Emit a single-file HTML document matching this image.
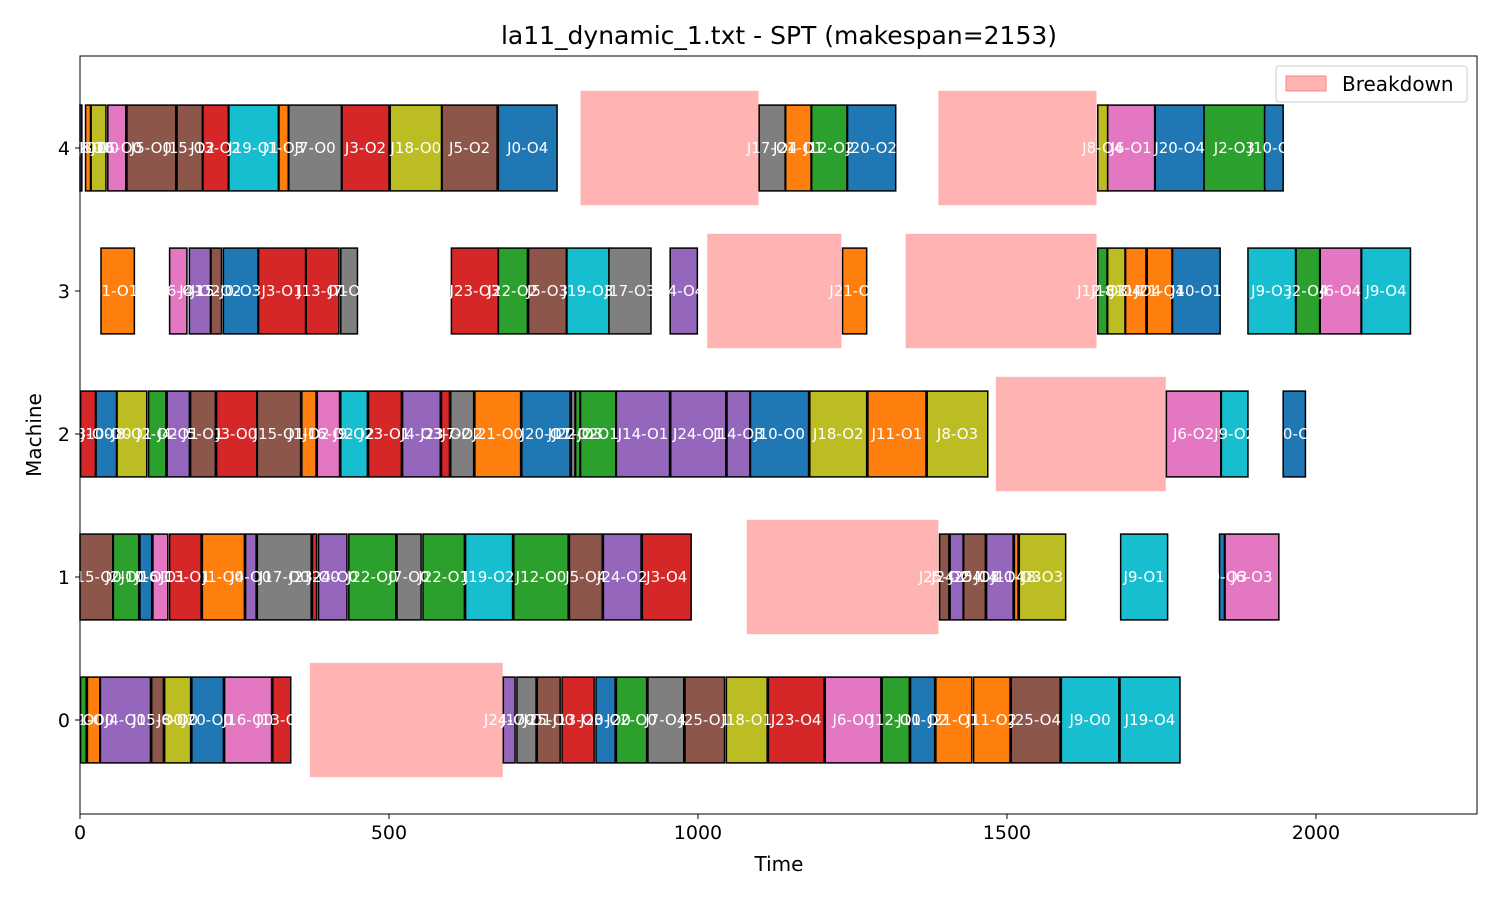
<!DOCTYPE html>
<html><head><meta charset="utf-8"><title>Gantt</title>
<style>
html,body{margin:0;padding:0;background:#fff;}
svg{display:block;font-family:"DejaVu Sans","Liberation Sans",sans-serif;}
</style></head>
<body>
<svg id="chart" width="1500" height="900" viewBox="0 0 1500 900" xmlns="http://www.w3.org/2000/svg">
<rect x="0" y="0" width="1500" height="900" fill="#fff"/>
<text x="779" y="44" text-anchor="middle" style="font-size:25px" fill="#000">la11_dynamic_1.txt - SPT (makespan=2153)</text>
<g id="breakdowns"></g>
<g id="bars"></g>
<g id="axes"></g>
<g>
<rect x="1276" y="66" width="191" height="36" rx="3" fill="#fff" fill-opacity="0.8" stroke="#ccc"/>
<rect x="1286" y="76" width="40" height="15" fill="#ffb3b3" stroke="#ff8080"/>
<text x="1342" y="91" style="font-size:20px" fill="#000">Breakdown</text>
</g>
<text x="779" y="871" text-anchor="middle" style="font-size:20px" fill="#000">Time</text>
<text x="41" y="435" text-anchor="middle" style="font-size:20px" fill="#000" transform="rotate(-90 41 435)">Machine</text>
</svg>
<script>
// ---- data ----
const machines = [0,1,2,3,4];
const xTicks = [0,500,1000,1500,2000];
// ops per machine: [job, op, start, end]
const ops4 = [[14,0,0,3],[11,0,9,17],[8,0,18,42],[16,0,45,74],[5,0,76,155],[15,2,157,198],[13,2,199,240],[19,1,241,321],[1,3,322,337],[7,0,338,423],[3,2,424,500],[18,0,502,585],[5,2,586,675],[0,4,677,772],[17,4,1099,1141],[21,1,1142,1183],[12,2,1184,1241],[20,2,1242,1320],[8,4,1647,1663],[6,1,1663,1739],[20,4,1740,1819],[2,3,1819,1917],[10,4,1917,1947]];
const ops3 = [[1,1,34,88],[16,1,145,173],[4,2,177,211],[15,2,212,229],[0,3,232,288],[3,1,289,365],[13,1,366,419],[7,1,422,449],[23,3,601,677],[22,2,677,724],[5,3,726,787],[19,3,788,856],[17,3,856,924],[4,4,955,999],[21,3,1234,1273],[12,3,1647,1662],[18,4,1663,1691],[11,4,1692,1725],[21,4,1727,1767],[10,1,1768,1845],[9,3,1890,1967],[2,4,1968,2006],[6,4,2007,2073],[9,4,2074,2153]];
const ops2 = [[13,0,1,25],[10,0,26,59],[8,1,60,108],[2,2,111,139],[4,1,141,177],[5,1,179,219],[3,0,221,286],[15,1,287,357],[1,2,359,382],[16,2,384,420],[9,2,422,465],[23,1,467,520],[4,3,522,583],[23,2,585,598],[7,2,600,637],[21,0,639,713],[20,1,715,793],[17,2,795,801],[22,3,802,809],[2,1,810,867],[14,1,868,954],[24,1,956,1045],[14,3,1047,1084],[10,0,1085,1179],[18,2,1181,1273],[11,1,1275,1369],[8,3,1371,1469],[6,2,1758,1846],[9,2,1847,1890],[10,3,1947,1983]];
const ops1 = [[15,0,0,53],[2,0,54,95],[10,1,97,116],[16,1,118,142],[13,1,145,196],[1,0,198,266],[4,0,268,285],[17,0,287,374],[23,0,376,383],[24,0,386,432],[22,0,435,511],[7,0,513,552],[22,1,555,622],[19,2,624,700],[12,0,702,790],[5,4,792,845],[24,2,847,908],[3,4,910,989],[25,2,1391,1406],[24,4,1408,1429],[25,3,1430,1465],[14,4,1467,1510],[11,3,1512,1518],[8,3,1520,1595],[9,1,1684,1760],[20,3,1844,1852],[6,3,1853,1940]];
const ops0 = [[2,0,1,10],[1,0,12,32],[4,0,33,114],[15,0,116,135],[8,0,137,179],[20,0,181,232],[16,0,234,310],[13,0,312,341],[24,0,685,704],[17,1,707,738],[25,0,740,777],[13,3,780,832],[20,0,835,866],[22,0,868,917],[7,4,919,977],[25,1,979,1043],[18,1,1046,1112],[23,4,1114,1204],[6,0,1206,1296],[12,1,1298,1342],[10,2,1344,1383],[21,1,1385,1443],[11,2,1446,1505],[25,4,1507,1586],[9,0,1588,1681],[19,4,1683,1780]];
const opsByMachine = [ops0, ops1, ops2, ops3, ops4];
// breakdowns: [machine, start, end]
const breakdowns = [[0,372,684],[1,1079,1389],[2,1482,1757],[3,1015,1232],[3,1336,1645],[4,810,1098],[4,1389,1645]];

// ---- scales ----
const PL=80, PR=1477, PT=56, PB=814;
const XMAX = 2153*1.05;
const xs = t => PL + t/XMAX*(PR-PL);
const ys = m => 720 - 143*m;
const BAR_H = 0.6*143, BD_H = 0.8*143;
const colors = ['#1f77b4','#ff7f0e','#2ca02c','#d62728','#9467bd','#8c564b','#e377c2','#7f7f7f','#bcbd22','#17becf'];
const NS = 'http://www.w3.org/2000/svg';
function mk(tag, attrs){const e=document.createElementNS(NS,tag);for(const k in attrs)e.setAttribute(k,attrs[k]);return e;}

const bdG = document.getElementById('breakdowns');
breakdowns.forEach(b=>{
  const r = mk('rect',{x:xs(b[1]),y:ys(b[0])-BD_H/2,width:xs(b[2])-xs(b[1]),height:BD_H,fill:'#ffb3b3'});
  
  
  bdG.appendChild(r);
});

const barG = document.getElementById('bars');
const labelG = mk('g',{});
opsByMachine.forEach((ops,m)=>{
  ops.forEach(o=>{
    const x0=xs(o[2]), x1=xs(o[3]);
    const r = mk('rect',{x:x0,y:ys(m)-BAR_H/2,width:x1-x0,height:BAR_H,fill:colors[o[0]%10],stroke:'#000','stroke-width':1.5});
    
    
    barG.appendChild(r);
    const t = mk('text',{x:(x0+x1)/2,y:ys(m)+5,'text-anchor':'middle',style:'font-size:15px',fill:'#fff'});
    t.textContent = 'J'+o[0]+'-O'+o[1];
    
    
    labelG.appendChild(t);
  });
});
barG.appendChild(labelG);

const ax = document.getElementById('axes');
const frame = mk('rect',{x:PL,y:PT,width:PR-PL,height:PB-PT,fill:'none',stroke:'#000','stroke-width':1});


ax.appendChild(frame);
xTicks.forEach(v=>{
  const x=xs(v);
  const l = mk('line',{x1:x,x2:x,y1:PB,y2:PB+5,stroke:'#000'});
  
  
  ax.appendChild(l);
  const t = mk('text',{x:x,y:PB+25,'text-anchor':'middle',style:'font-size:19px',fill:'#000'});
  t.textContent = v;
  
  
  ax.appendChild(t);
});
machines.forEach(m=>{
  const y=ys(m);
  const l = mk('line',{x1:PL-5,x2:PL,y1:y,y2:y,stroke:'#000'});
  
  
  ax.appendChild(l);
  const t = mk('text',{x:PL-10,y:y+7,'text-anchor':'end',style:'font-size:19px',fill:'#000'});
  t.textContent = m;
  
  
  ax.appendChild(t);
});
</script>
</body></html>
